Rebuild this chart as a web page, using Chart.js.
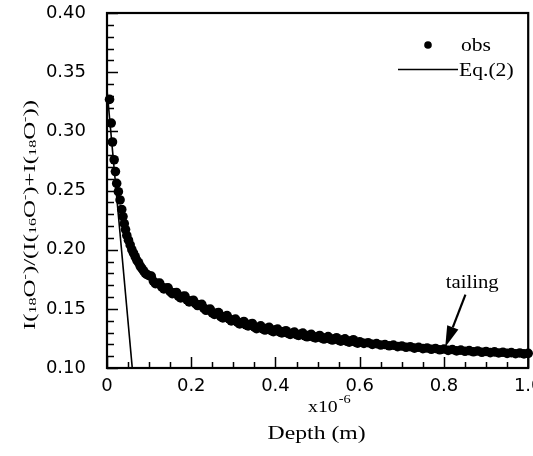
<!DOCTYPE html>
<html>
<head>
<meta charset="utf-8">
<script src="https://cdn.jsdelivr.net/npm/chart.js@4/dist/chart.umd.min.js"></script>
<style>
  html, body { margin: 0; padding: 0; background: #fff; }
  #wrap { width: 533px; height: 456px; }
</style>
</head>
<body>
<div id="wrap"><canvas id="chart" width="533" height="456"></canvas></div>
<script>
// depth in units of 1e-6 m
const depth = [
  0.006, 0.010, 0.013, 0.017, 0.020, 0.023, 0.027, 0.031, 0.035, 0.038,
  0.041, 0.044, 0.047, 0.051, 0.055, 0.059, 0.063, 0.067, 0.071, 0.075,
  0.079, 0.083, 0.087, 0.091, 0.095,
  0.10, 0.11, 0.12, 0.13, 0.14, 0.15, 0.16, 0.17, 0.18, 0.19,
  0.20, 0.21, 0.22, 0.23, 0.24, 0.25, 0.26, 0.27, 0.28, 0.29,
  0.30, 0.31, 0.32, 0.33, 0.34, 0.35, 0.36, 0.37, 0.38, 0.39,
  0.40, 0.41, 0.42, 0.43, 0.44, 0.45, 0.46, 0.47, 0.48, 0.49,
  0.50, 0.51, 0.52, 0.53, 0.54, 0.55, 0.56, 0.57, 0.58, 0.59,
  0.60, 0.61, 0.62, 0.63, 0.64, 0.65, 0.66, 0.67, 0.68, 0.69,
  0.70, 0.71, 0.72, 0.73, 0.74, 0.75, 0.76, 0.77, 0.78, 0.79,
  0.80, 0.81, 0.82, 0.83, 0.84, 0.85, 0.86, 0.87, 0.88, 0.89,
  0.90, 0.91, 0.92, 0.93, 0.94, 0.95, 0.96, 0.97, 0.98, 0.99, 1.00
];
// measured I(18O-)/(I(16O-)+I(18O-))
const ratio = [
  0.327, 0.307, 0.291, 0.276, 0.266, 0.256, 0.249, 0.242, 0.234, 0.228,
  0.222, 0.217, 0.212, 0.208, 0.204, 0.200, 0.197, 0.194, 0.191, 0.189,
  0.186, 0.184, 0.182, 0.180, 0.179,
  0.1780, 0.1735, 0.1715, 0.1685, 0.1675, 0.1645, 0.1635, 0.1605, 0.1605, 0.1575,
  0.1565, 0.1545, 0.1535, 0.1505, 0.1495, 0.1465, 0.1465, 0.1435, 0.1435, 0.1415,
  0.1405, 0.1385, 0.1385, 0.1365, 0.1370, 0.1345, 0.1345, 0.1330, 0.1335, 0.1315,
  0.1322, 0.1305, 0.1308, 0.1292, 0.1296, 0.1282, 0.1287, 0.1272, 0.1276, 0.1262,
  0.1266, 0.1253, 0.1256, 0.1244, 0.1247, 0.1235, 0.1238, 0.1226, 0.1229, 0.1218,
  0.1222, 0.1208, 0.1214, 0.1200, 0.1206, 0.1194, 0.1198, 0.1188, 0.1193, 0.1181,
  0.1186, 0.1175, 0.1180, 0.1168, 0.1175, 0.1164, 0.1169, 0.1158, 0.1165, 0.1154,
  0.1160, 0.1149, 0.1156, 0.1145, 0.1151, 0.1141, 0.1147, 0.1137, 0.1144, 0.1133,
  0.1140, 0.1130, 0.1136, 0.1127, 0.1133, 0.1124, 0.1130, 0.1121, 0.1127, 0.1119, 0.1124
];
// in-between readings where the profile is most scattered
const depthMid = [
  0.105, 0.115, 0.125, 0.135, 0.145, 0.155, 0.165, 0.175, 0.185, 0.195,
  0.205, 0.215, 0.225, 0.235, 0.245, 0.255, 0.265, 0.275, 0.285, 0.295,
  0.305, 0.315, 0.325, 0.335, 0.345, 0.355, 0.365, 0.375, 0.385, 0.395,
  0.405, 0.415, 0.425, 0.435, 0.445, 0.455, 0.465, 0.475, 0.485, 0.495,
  0.505, 0.515, 0.525, 0.535, 0.545, 0.555, 0.565, 0.575, 0.585, 0.595
];
const ratioMid = [
  0.1776, 0.1713, 0.1718, 0.1668, 0.1678, 0.1628, 0.1638, 0.1593, 0.1608, 0.1558,
  0.1573, 0.1528, 0.1538, 0.1488, 0.1498, 0.1453, 0.1468, 0.1423, 0.1443, 0.1398,
  0.1413, 0.1373, 0.1393, 0.1356, 0.1376, 0.1333, 0.1356, 0.1321, 0.1343, 0.1307,
  0.1329, 0.1297, 0.1315, 0.1284, 0.1304, 0.1275, 0.1295, 0.1264, 0.1284, 0.1254,
  0.1275, 0.1245, 0.1265, 0.1236, 0.1256, 0.1227, 0.1247, 0.1218, 0.1239, 0.1210
];
// Eq.(2) curve
const eqDepth = [0, 0.06];
const eqRatio = [0.335, 0.10];

const xTickStep = 0.2, xMinorStep = 0.05;
const yTickStep = 0.05, yMinorStep = 0.01;

const SERIF = '"Liberation Serif", "Times New Roman", serif';

function stretchedText(ctx, text, x, y, size, sx, align) {
  ctx.save();
  ctx.font = size + 'px ' + SERIF;
  const w = ctx.measureText(text).width * sx;
  let x0 = x;
  if (align === 'center') x0 = x - w / 2;
  else if (align === 'right') x0 = x - w;
  ctx.translate(x0, y);
  ctx.scale(sx, 1);
  ctx.textAlign = 'left';
  ctx.textBaseline = 'alphabetic';
  ctx.fillText(text, 0, 0);
  ctx.restore();
  return w;
}

// runs of [text, size, baseline shift]
function richRuns(ctx, runs) {
  let w = 0;
  runs.forEach(r => { ctx.font = r[1] + 'px ' + SERIF; w += ctx.measureText(r[0]).width; });
  return w;
}
function drawRuns(ctx, runs, x0) {
  let x = x0;
  runs.forEach(r => {
    ctx.font = r[1] + 'px ' + SERIF;
    ctx.fillText(r[0], x, r[2]);
    x += ctx.measureText(r[0]).width;
  });
}

const frameAndTicks = {
  id: 'frameAndTicks',
  afterDatasetsDraw(chart) {
    const { ctx, chartArea: a, scales } = chart;
    const xs = scales.x, ys = scales.y;
    ctx.save();
    ctx.strokeStyle = '#000';
    ctx.lineWidth = 1.5;
    ctx.beginPath();
    for (let i = 0; i <= Math.round((xs.max - xs.min) / xMinorStep); i++) {
      const v = xs.min + i * xMinorStep;
      const px = Math.round(xs.getPixelForValue(v)) + 0.5;
      const major = Math.abs(v / xTickStep - Math.round(v / xTickStep)) < 1e-6;
      ctx.moveTo(px, a.bottom);
      ctx.lineTo(px, a.bottom - (major ? 11 : 6));
    }
    for (let i = 0; i <= Math.round((ys.max - ys.min) / yMinorStep); i++) {
      const v = ys.min + i * yMinorStep;
      const py = Math.round(ys.getPixelForValue(v)) + 0.5;
      const major = Math.abs(v / yTickStep - Math.round(v / yTickStep)) < 1e-6;
      ctx.moveTo(a.left, py);
      ctx.lineTo(a.left + (major ? 11 : 7), py);
    }
    ctx.stroke();
    ctx.lineWidth = 2.2;
    ctx.strokeRect(a.left, a.top, a.right - a.left, a.bottom - a.top);
    ctx.restore();
  },
  afterDraw(chart) {
    const { ctx, chartArea: a, scales } = chart;
    const xs = scales.x, ys = scales.y;
    ctx.save();
    ctx.fillStyle = '#000';
    ctx.strokeStyle = '#000';

    // legend
    const ds = chart.data.datasets;
    ctx.beginPath();
    ctx.arc(428, 45, 3.8, 0, Math.PI * 2);
    ctx.fill();
    stretchedText(ctx, ds[0].label, 461, 51, 18, 1.2, 'left');
    ctx.lineWidth = 1.6;
    ctx.beginPath();
    ctx.moveTo(398, 69.5);
    ctx.lineTo(458, 69.5);
    ctx.stroke();
    stretchedText(ctx, ds[1].label, 459, 76, 18, 1.2, 'left');

    // annotation arrow
    const tipX = xs.getPixelForValue(0.803), tipY = ys.getPixelForValue(0.1178);
    const tailX = xs.getPixelForValue(0.851), tailY = ys.getPixelForValue(0.162);
    const ang = Math.atan2(tipY - tailY, tipX - tailX);
    const headLen = 21, headW = 6;
    const bx = tipX - headLen * Math.cos(ang), by = tipY - headLen * Math.sin(ang);
    ctx.lineWidth = 2.2;
    ctx.beginPath();
    ctx.moveTo(tailX, tailY);
    ctx.lineTo(bx, by);
    ctx.stroke();
    ctx.beginPath();
    ctx.moveTo(tipX, tipY);
    ctx.lineTo(bx + headW * Math.sin(ang), by - headW * Math.cos(ang));
    ctx.lineTo(bx - headW * Math.sin(ang), by + headW * Math.cos(ang));
    ctx.closePath();
    ctx.fill();
    stretchedText(ctx, 'tailing', xs.getPixelForValue(0.867), ys.getPixelForValue(0.168), 18, 1.15, 'center');

    // x axis title with multiplier
    const cx = (a.left + a.right) / 2;
    const w1 = stretchedText(ctx, 'x10', 308, 412, 16.5, 1.2, 'left');
    stretchedText(ctx, '-6', 308 + w1 + 1, 403, 12, 1.2, 'left');
    stretchedText(ctx, 'Depth (m)', cx - 1, 439, 18.5, 1.28, 'center');

    // y axis title
    const runs = [
      ['I(', 17, 0], ['18', 11, 1], ['O', 17, 0], ['-', 11, -7], [')/(I(', 17, 0],
      ['16', 11, 1], ['O', 17, 0], ['-', 11, -7], [')+I(', 17, 0],
      ['18', 11, 1], ['O', 17, 0], ['-', 11, -7], ['))', 17, 0]
    ];
    const natural = richRuns(ctx, runs);
    const sx = 230 / natural;
    ctx.translate(35, 215);
    ctx.rotate(-Math.PI / 2);
    ctx.scale(sx, 1);
    ctx.textBaseline = 'alphabetic';
    ctx.textAlign = 'left';
    drawRuns(ctx, runs, -natural / 2);
    ctx.restore();
  }
};

const obsPoints = depth.map((d, i) => ({ x: d, y: ratio[i] }))
  .concat(depthMid.map((d, i) => ({ x: d, y: ratioMid[i] })));

new Chart(document.getElementById('chart'), {
  type: 'scatter',
  data: {
    datasets: [
      {
        label: 'obs',
        data: obsPoints,
        backgroundColor: '#000',
        borderWidth: 0,
        pointRadius: 4.8,
        pointHoverRadius: 4.8,
        clip: false,
        order: 2
      },
      {
        label: 'Eq.(2)',
        type: 'line',
        data: eqDepth.map((d, i) => ({ x: d, y: eqRatio[i] })),
        borderColor: '#000',
        borderWidth: 1.6,
        pointRadius: 0,
        fill: false,
        order: 1
      }
    ]
  },
  options: {
    responsive: false,
    animation: false,
    events: [],
    layout: { padding: { left: 0, right: 3, top: 13, bottom: 0 } },
    plugins: { legend: { display: false }, tooltip: { enabled: false } },
    scales: {
      x: {
        type: 'linear',
        min: 0,
        max: 1.0,
        grid: { display: false },
        border: { display: false },
        ticks: {
          stepSize: xTickStep,
          color: '#000',
          padding: 0,
          maxRotation: 0,
          font: { family: '"DejaVu Sans", sans-serif', size: 18 },
          callback: v => (v === 0 ? '0' : v.toFixed(1))
        },
        afterFit: s => { s.height = 88; s.paddingLeft = 0; s.paddingRight = 0; }
      },
      y: {
        type: 'linear',
        min: 0.10,
        max: 0.40,
        grid: { display: false },
        border: { display: false },
        ticks: {
          stepSize: yTickStep,
          color: '#000',
          padding: 13,
          font: { family: '"DejaVu Sans", sans-serif', size: 18 },
          callback: v => v.toFixed(2)
        },
        afterFit: s => { s.width = 107; s.paddingTop = 0; s.paddingBottom = 0; }
      }
    }
  },
  plugins: [frameAndTicks]
});
</script>
</body>
</html>
